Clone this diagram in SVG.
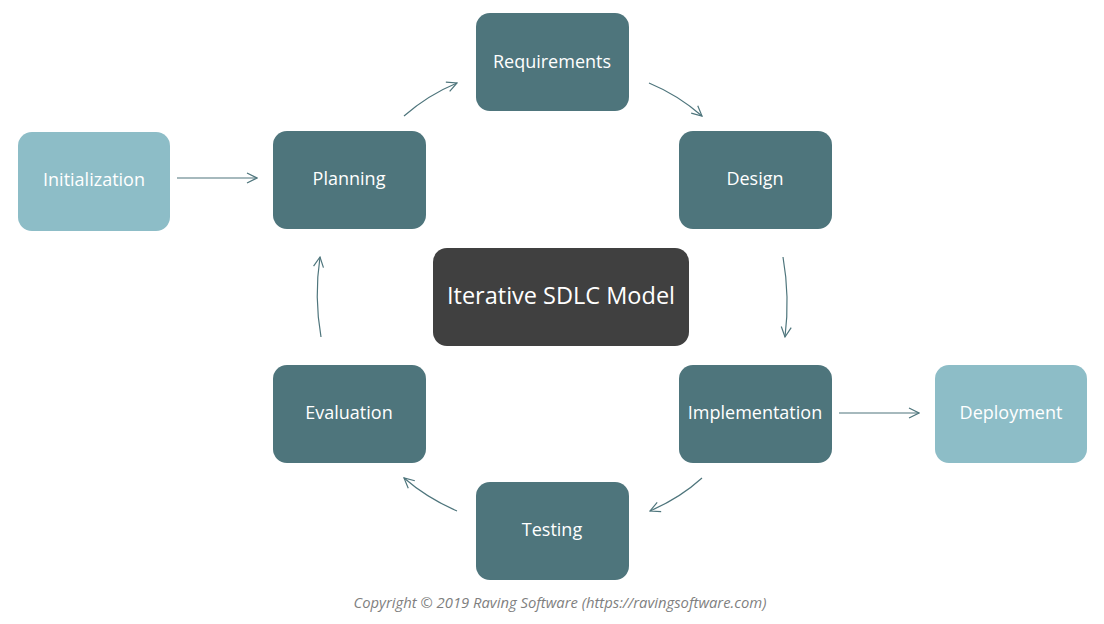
<svg xmlns="http://www.w3.org/2000/svg" width="1104" height="624" viewBox="0 0 1104 624">
<style>
.dark{fill:#4e757c}
.light{fill:#8dbdc7}
.center{fill:#404040}
.lbl{font-family:"Open Sans","Noto Sans",sans-serif;font-size:18px;fill:#ffffff;text-anchor:middle;dominant-baseline:central}
.big{font-size:23.5px}
.conn{fill:none;stroke:#4e757c;stroke-width:1.2;marker-end:url(#ah)}
.copy{font-family:"Open Sans","Noto Sans",sans-serif;font-size:14.8px;font-style:italic;fill:#7f7f7f;text-anchor:middle}
</style>
<defs>
<marker id="ah" viewBox="0 0 12 12" refX="11" refY="6" markerWidth="12" markerHeight="12" markerUnits="userSpaceOnUse" orient="auto">
<path d="M1,1 L11,6 L1,11" fill="none" stroke="#4e757c" stroke-width="1.2"/>
</marker>
</defs>
<rect width="1104" height="624" fill="#ffffff"/>
<g id="connectors">
<path class="conn" d="M404,116 Q428,95 457,83"/>
<path class="conn" d="M649,83 Q678,95 702,116"/>
<path class="conn" d="M783,257 Q790,297 785,337"/>
<path class="conn" d="M702,478 Q680,498 650,511"/>
<path class="conn" d="M457,511 Q427,498 404,478"/>
<path class="conn" d="M321,337 Q314,297 320,257"/>
<path class="conn" d="M177,178 L257,178"/>
<path class="conn" d="M839,413 L919,413"/>
</g>
<g id="requirements"><rect class="dark" x="476" y="13" width="153" height="98" rx="14"/><text class="lbl" x="552" y="61">Requirements</text></g>
<g id="initialization"><rect class="light" x="18" y="132" width="152" height="99" rx="14"/><text class="lbl" x="94" y="179">Initialization</text></g>
<g id="planning"><rect class="dark" x="273" y="131" width="153" height="98" rx="14"/><text class="lbl" x="349" y="178">Planning</text></g>
<g id="design"><rect class="dark" x="679" y="131" width="153" height="98" rx="14"/><text class="lbl" x="755" y="178">Design</text></g>
<g id="model"><rect class="center" x="433" y="248" width="256" height="98" rx="14"/><text class="lbl big" x="561" y="295">Iterative SDLC Model</text></g>
<g id="evaluation"><rect class="dark" x="273" y="365" width="153" height="98" rx="14"/><text class="lbl" x="349" y="412">Evaluation</text></g>
<g id="implementation"><rect class="dark" x="679" y="365" width="153" height="98" rx="14"/><text class="lbl" x="755" y="412">Implementation</text></g>
<g id="deployment"><rect class="light" x="935" y="365" width="152" height="98" rx="14"/><text class="lbl" x="1011" y="412">Deployment</text></g>
<g id="testing"><rect class="dark" x="476" y="482" width="153" height="98" rx="14"/><text class="lbl" x="552" y="529">Testing</text></g>
<text class="copy" x="560" y="608">Copyright © 2019 Raving Software (https://ravingsoftware.com)</text>
</svg>
